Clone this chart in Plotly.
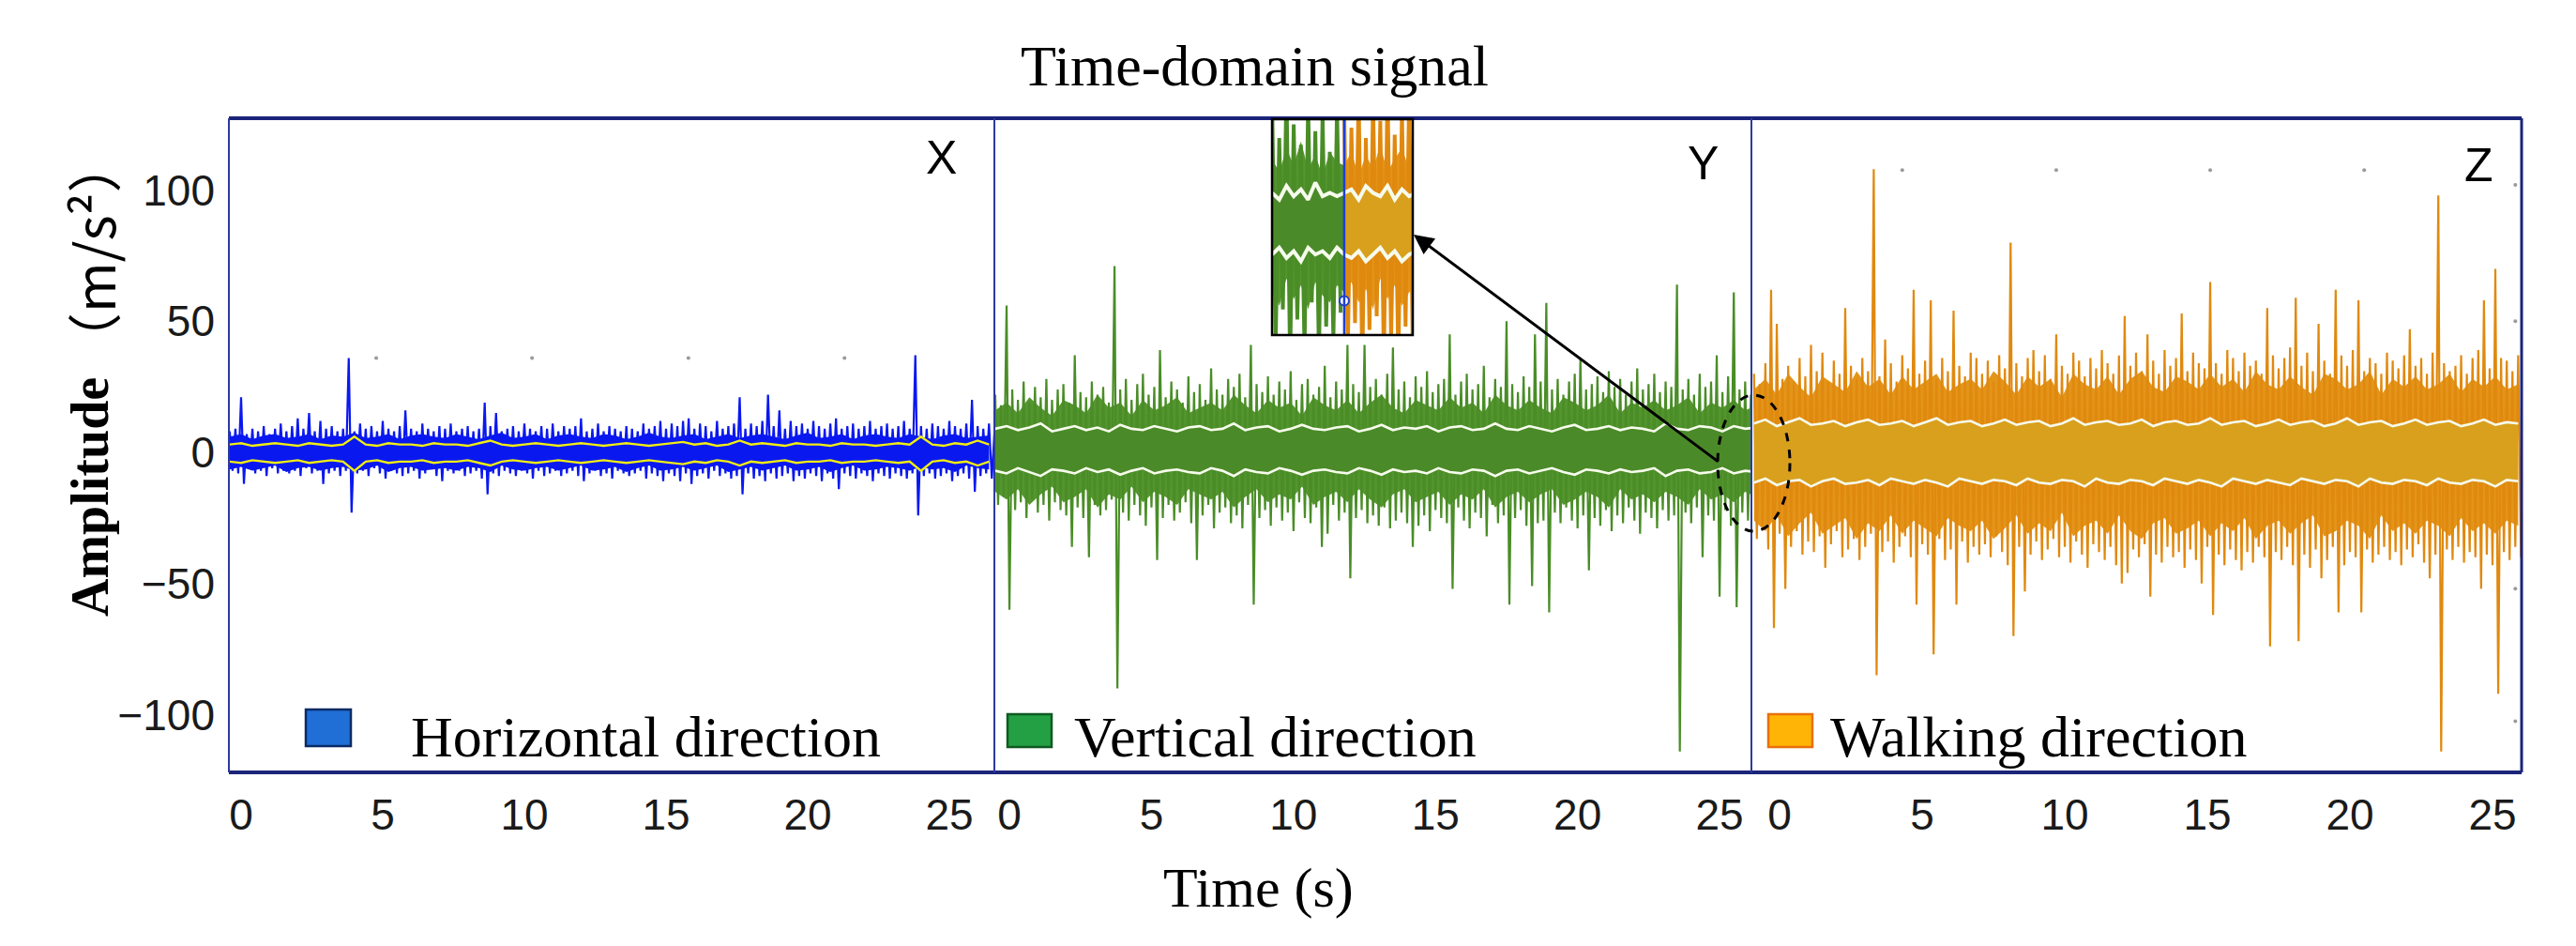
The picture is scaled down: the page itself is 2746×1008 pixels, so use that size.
import numpy as np
import plotly.graph_objects as go

# ---------------- data ----------------
STEP = 0.2          # s between successive positive peaks
ENV_STEP = 0.4      # s between envelope points
X_T0, Y_T0, Z_T0 = -0.4, -0.5, -0.9   # first sample time of each panel

tick_vals_x = [0, 5, 10, 15, 20, 25]
tick_vals_y = [-100, -50, 0, 50, 100]
tick_text_y = ["\u2212100", "\u221250", "0", "50", "100"]

# X  (horizontal direction)
x_up = [8, 9, 21, 7, 9, 8, 10, 7, 9, 11,
        8, 10, 13, 9, 15, 8, 12, 9, 10, 8,
        9, 36, 8, 11, 9, 10, 8, 12, 9, 8,
        10, 16, 9, 8, 11, 9, 8, 10, 9, 11,
        8, 9, 10, 8, 9, 19, 10, 15, 8, 9,
        10, 8, 11, 9, 8, 10, 9, 11, 8, 10,
        9, 10, 13, 8, 9, 11, 8, 10, 9, 8,
        10, 9, 8, 11, 9, 10, 12, 9, 11, 10,
        12, 13, 9, 11, 10, 8, 12, 9, 10, 11,
        21, 9, 11, 10, 12, 22, 10, 16, 9, 12,
        10, 11, 9, 12, 10, 9, 11, 13, 9, 10,
        11, 9, 10, 12, 9, 10, 11, 9, 10, 12,
        9, 37, 10, 9, 11, 10, 9, 12, 10, 9,
        11, 20, 10, 9, 11, 9]
x_dn = [-7, -8, -12, -6, -8, -7, -9, -6, -8, -7,
        -8, -7, -9, -6, -8, -7, -12, -8, -7, -9,
        -7, -23, -8, -7, -9, -6, -8, -10, -7, -8,
        -9, -8, -7, -10, -8, -6, -9, -11, -7, -8,
        -7, -9, -8, -7, -10, -16, -8, -9, -7, -8,
        -9, -7, -8, -10, -7, -9, -8, -7, -9, -8,
        -7, -9, -11, -8, -7, -9, -8, -10, -7, -8,
        -9, -8, -7, -10, -8, -9, -11, -8, -9, -11,
        -8, -12, -9, -8, -10, -7, -9, -8, -10, -9,
        -16, -8, -10, -9, -11, -8, -10, -9, -8, -11,
        -9, -10, -8, -9, -11, -8, -10, -14, -8, -9,
        -10, -8, -9, -11, -8, -9, -10, -8, -9, -10,
        -8, -24, -9, -8, -10, -9, -8, -11, -9, -8,
        -10, -15, -9, -8, -10, -8]
x_band_up = [6, 7, 5, 6.5, 7, 5.5, 6, 7, 5, 6.5,
             6, 7.5, 5.5, 6, 7, 5, 6.5, 7, 6, 5.5,
             7, 6, 5, 6.5, 7.5, 5.5, 6, 7, 5, 6.5,
             7, 6, 5.5, 7, 6.5, 5, 6, 7.5, 6, 5.5,
             6.5, 7, 5, 6, 7, 5.5, 6.5, 7, 6, 5,
             6.5, 7.5, 5.5, 6, 7, 5, 6.5, 7, 6, 5.5,
             7, 6, 5, 6.5, 7, 5.5, 6, 6.5]
x_band_dn = [-6.5, -5.5, -7, -6, -5, -7.5, -6, -5.5, -7, -6,
             -5.5, -7, -6.5, -5, -7.5, -6, -5.5, -7, -6.5, -6,
             -7, -5.5, -6, -7.5, -5, -6.5, -7, -6, -5.5, -7,
             -6, -5, -7, -6.5, -5.5, -7.5, -6, -5, -7, -6.5,
             -5.5, -7, -6, -5, -7.5, -6.5, -5.5, -7, -6, -5,
             -7, -6.5, -5.5, -7.5, -6, -5, -7, -6.5, -5.5, -6,
             -7, -5.5, -6.5, -6, -7.5, -5, -6, -6.5]
x_env_up = [3, 3.5, 2.5, 3, 3.5, 3, 2.5, 3.5, 3, 2.5, 3, 6, 3, 2.5, 3.5, 3, 3, 2.5, 3.5, 3,
            3, 2.5, 3.5, 4.5, 3, 2.5, 3, 3.5, 3, 2.5, 3, 3.5, 3, 2.5, 3, 3.5, 3, 2.5, 3, 3.5,
            4, 3, 3.5, 2.5, 3, 4.5, 3, 3.5, 3, 2.5, 3.5, 3, 3, 2.5, 3.5, 3, 3, 2.5, 3, 3.5,
            3, 6, 3, 2.5, 3.5, 3, 4.5, 3]
x_env_dn = [-3.5, -4, -3, -3.5, -4, -3.5, -3, -4, -3.5, -3, -3.5, -7, -3.5, -3, -4, -3.5, -3.5, -3, -4, -3.5,
            -3.5, -3, -4, -5, -3.5, -3, -3.5, -4, -3.5, -3, -3.5, -4, -3.5, -3, -3.5, -4, -3.5, -3, -3.5, -4,
            -4.5, -3.5, -4, -3, -3.5, -5, -3.5, -4, -3.5, -3, -4, -3.5, -3.5, -3, -4, -3.5, -3.5, -3, -3.5, -4,
            -3.5, -7, -3.5, -3, -4, -3.5, -5, -3.5]
x_dot_t = [4.77, 10.27, 15.79, 21.3]
x_dot_a = [36, 36, 36, 36]

# Y  (vertical direction)
y_up = [22, 18, 56, 24, 20, 27, 19, 25, 21, 28,
        20, 24, 26, 19, 37, 23, 21, 27, 22, 25,
        19, 71, 24, 28, 20, 26, 30, 22, 25, 39,
        21, 27, 24, 19, 29, 23, 26, 20, 32, 24,
        22, 28, 25, 30, 21, 41, 26, 23, 29, 22,
        27, 24, 31, 20, 26, 28, 22, 25, 33, 21,
        27, 24, 41, 26, 23, 41, 25, 28, 22, 30,
        40, 24, 27, 21, 29, 25, 31, 23, 26, 28,
        45, 22, 27, 30, 24, 26, 33, 21, 28, 25,
        50, 26, 23, 29, 25, 45, 27, 57, 24, 28,
        22, 27, 30, 36, 24, 26, 29, 23, 31, 25,
        28, 22, 27, 32, 24, 26, 30, 23, 27, 25,
        64, 24, 28, 22, 30, 25, 27, 37, 23, 29,
        61, 24, 27, 22, 26, 23]
y_dn = [-20, -17, -60, -22, -19, -25, -18, -23, -20, -26,
        -19, -22, -24, -36, -21, -25, -40, -20, -24, -22,
        -18, -90, -23, -26, -20, -24, -28, -21, -41, -25,
        -20, -26, -23, -19, -27, -41, -24, -20, -29, -23,
        -21, -27, -24, -29, -20, -58, -25, -22, -28, -21,
        -26, -23, -30, -19, -25, -27, -21, -36, -31, -20,
        -26, -23, -48, -25, -22, -27, -24, -28, -21, -29,
        -26, -23, -27, -36, -28, -24, -30, -22, -25, -27,
        -52, -21, -26, -29, -23, -25, -32, -20, -27, -24,
        -58, -25, -22, -28, -51, -27, -26, -61, -23, -27,
        -21, -26, -29, -24, -45, -25, -28, -22, -30, -24,
        -27, -21, -26, -31, -23, -25, -29, -22, -26, -24,
        -114, -23, -27, -21, -40, -24, -26, -55, -22, -28,
        -59, -23, -26, -21, -25, -22]
y_band_up = [16, 19, 15, 21, 17, 14, 20, 18, 15, 22,
             17, 19, 14, 20, 16, 18, 21, 15, 17, 19,
             16, 22, 18, 15, 20, 17, 19, 14, 21, 18,
             16, 20, 15, 19, 22, 17, 15, 20, 18, 16,
             21, 17, 19, 15, 22, 18, 16, 20, 17, 15,
             21, 19, 16, 18, 22, 15, 19, 17, 20, 16,
             18, 21, 15, 19, 17, 20, 16, 18]
y_band_dn = [-15, -18, -14, -20, -16, -13, -19, -17, -14, -21,
             -16, -18, -13, -19, -15, -17, -20, -14, -16, -18,
             -15, -21, -17, -14, -19, -16, -18, -13, -20, -17,
             -15, -19, -14, -18, -21, -16, -14, -19, -17, -15,
             -20, -16, -18, -14, -21, -17, -15, -19, -16, -14,
             -20, -18, -15, -17, -21, -14, -18, -16, -19, -15,
             -17, -20, -14, -18, -16, -19, -15, -17]
y_env_up = [9, 10, 8.5, 9.5, 11, 8, 9, 10, 8.5, 9.5, 8, 10.5, 9, 8.5, 10, 9, 8, 9.5, 10, 8.5,
            9, 11, 8.5, 9.5, 10, 8, 9, 10.5, 9, 8.5, 9.5, 10, 8, 9, 10.5, 8.5, 9.5, 9, 10, 8,
            9.5, 10, 8.5, 9, 11, 9, 8.5, 10, 9, 8, 9.5, 10.5, 8.5, 9, 10, 8.5, 9.5, 9, 8, 11,
            9, 8.5, 10, 9.5, 8, 10, 9, 9.5]
y_env_dn = [-7, -8, -6, -7.5, -9, -6.5, -7, -8, -6, -7.5, -6.5, -8.5, -7, -6, -8, -7, -6.5, -7.5, -8, -6,
            -7, -9, -6.5, -7.5, -8, -6, -7, -8.5, -7, -6.5, -7.5, -8, -6, -7, -8.5, -6.5, -7.5, -7, -8, -6,
            -7.5, -8, -6.5, -7, -9, -7, -6.5, -8, -7, -6, -7.5, -8.5, -6.5, -7, -8, -6.5, -7.5, -7, -6, -9,
            -7, -6.5, -8, -7.5, -6, -8, -7, -7.5]

# Z  (walking direction)
z_up = [30, 26, 34, 62, 49, 28, 33, 27, 36, 29,
        41, 31, 38, 27, 35, 30, 55, 33, 28, 36,
        31, 108, 29, 43, 34, 27, 37, 32, 62, 30,
        35, 58, 28, 36, 31, 54, 33, 29, 38, 36,
        30, 35, 27, 37, 32, 80, 34, 29, 36, 39,
        31, 37, 28, 45, 33, 30, 38, 35, 29, 36,
        32, 39, 34, 30, 37, 52, 33, 38, 31, 45,
        35, 30, 39, 33, 36, 53, 31, 38, 34, 32,
        65, 34, 30, 39, 36, 31, 38, 33, 35, 30,
        55, 37, 32, 36, 40, 59, 33, 38, 31, 49,
        35, 30, 62, 37, 33, 39, 58, 31, 36, 34,
        30, 38, 35, 32, 37, 47, 33, 36, 30, 38,
        98, 34, 31, 33, 37, 30, 36, 39, 58, 32,
        70, 36, 35, 31, 37, 33]
z_dn = [-33, -28, -37, -67, -31, -52, -36, -30, -39, -34,
        -38, -32, -44, -35, -30, -40, -37, -33, -41, -36,
        -31, -85, -38, -34, -42, -36, -32, -40, -58, -35,
        -39, -77, -33, -41, -37, -58, -34, -42, -36, -39,
        -35, -40, -32, -38, -43, -70, -36, -53, -39, -34,
        -41, -37, -33, -40, -36, -42, -34, -39, -44, -35,
        -38, -41, -36, -43, -50, -46, -37, -40, -35, -55,
        -39, -42, -36, -40, -38, -44, -37, -41, -50, -36,
        -62, -39, -43, -37, -41, -45, -38, -42, -36, -40,
        -74, -38, -41, -36, -43, -72, -39, -44, -37, -48,
        -41, -36, -61, -43, -38, -40, -61, -37, -42, -39,
        -36, -41, -38, -43, -37, -40, -35, -42, -48, -39,
        -114, -37, -41, -36, -42, -38, -40, -52, -39, -43,
        -92, -38, -41, -36, -40, -37]
z_band_up = [24, 28, 22, 30, 25, 21, 29, 26, 23, 31,
             25, 28, 22, 29, 24, 27, 30, 23, 26, 28,
             24, 31, 27, 22, 29, 25, 28, 21, 30, 26,
             24, 29, 22, 28, 31, 25, 23, 29, 27, 24,
             30, 25, 28, 23, 31, 26, 24, 29, 25, 22,
             30, 28, 24, 26, 31, 22, 28, 25, 29, 24,
             26, 30, 23, 28, 25, 29, 24, 26]
z_band_dn = [-26, -30, -24, -32, -27, -23, -31, -28, -25, -33,
             -27, -30, -24, -31, -26, -29, -32, -25, -28, -30,
             -26, -33, -29, -24, -31, -27, -30, -23, -32, -28,
             -26, -31, -24, -30, -33, -27, -25, -31, -29, -26,
             -32, -27, -30, -25, -33, -28, -26, -31, -27, -24,
             -32, -30, -26, -28, -33, -24, -30, -27, -31, -26,
             -28, -32, -25, -30, -27, -31, -26, -28]
z_env_up = [11, 12.5, 10, 11.5, 13, 10.5, 11, 12, 10, 11.5, 12.5, 10.5, 11, 12, 10, 11.5, 13, 10.5, 11.5, 12,
            10, 11, 12.5, 10.5, 11.5, 12, 10, 11, 13, 10.5, 11.5, 12, 10.5, 11, 12.5, 10, 11.5, 12, 10.5, 11,
            13, 10.5, 11.5, 12, 10, 11, 12.5, 10.5, 11.5, 12, 10, 11, 13, 10.5, 11.5, 12, 10, 11, 12.5, 10.5,
            11.5, 12, 10, 11, 12.5, 10.5, 11.5, 11]
z_env_dn = [-11.5, -10, -12.5, -11, -10.5, -13, -11, -10, -12, -11.5, -10.5, -12.5, -10, -11, -12, -10.5, -11.5, -13, -10, -11,
            -12, -10.5, -11, -12.5, -10, -11.5, -12, -10.5, -11, -13, -10, -11.5, -12, -10.5, -11, -12.5, -10, -11, -12, -10.5,
            -11.5, -13, -10, -11, -12, -10.5, -11.5, -12.5, -10, -11, -12, -10.5, -11, -13, -10, -11.5, -12, -10.5, -11, -12.5,
            -10, -11.5, -12, -10.5, -11, -13, -10.5, -11]
z_dot_t = [4.3, 9.7, 15.1, 20.5, 25.8, 25.8, 25.8, 25.8]
z_dot_a = [107.6, 107.6, 107.6, 107.6, 102, 50, -52, -102.5]

# inset (magnified view around the Y/Z junction)
INSET_STEP = 0.1
inset_g_t0, inset_o_t0 = -1.0, 0.0
inset_g_up = [38, 26, 41, 30, 24, 36, 28, 33, 22, 35]
inset_g_dn = [-34, -24, -40, -27, -36, -22, -38, -29, -33, -25]
inset_o_up = [35, 29, 40, 26, 37, 31, 42, 27, 34, 38]
inset_o_dn = [-36, -28, -41, -30, -26, -39, -33, -40, -29, -35]
inset_g_band_up = [20, 16, 23, 18, 25, 17, 21, 15, 22, 19, 18]
inset_g_band_dn = [-18, -23, -15, -21, -17, -24, -16, -20, -22, -17, -19]
inset_o_band_up = [18, 22, 15, 21, 17, 24, 16, 20, 23, 17, 19]
inset_o_band_dn = [-20, -16, -22, -18, -24, -15, -21, -17, -23, -19, -18]
inset_g_env_up = [10, 8, 12, 9, 11, 8, 13, 9, 10, 9, 10]
inset_g_env_dn = [-8, -6, -9, -7, -10, -6, -8, -7, -9, -6, -8]
inset_o_env_up = [10, 11, 8, 12, 10, 9, 12, 8, 11, 9, 10]
inset_o_env_dn = [-8, -9, -7, -10, -8, -6, -9, -7, -10, -8, -7]
inset_circle_t, inset_circle_a = [0.0], [-21.5]

# ---------------- styling ----------------
W, H = 2746, 1008
L, R, T, B = 236, 66, 118, 193
PW, PH = W - L - R, H - T - B


def px(xpix):
    return (xpix - L) / PW


def py(ypix):
    return (H - B - ypix) / PH


D1, D2 = px(1052), px(1859)
SERIF = "Liberation Serif, Times New Roman, serif"
SANS = "Liberation Sans, Arial, sans-serif"
CJK = "Noto Sans CJK SC, Liberation Sans, sans-serif"

BLUE, BLUE_CORE, YELLOW = "#0a18f0", "#0a18f0", "#f0ee10"
GREEN, GREEN_CORE = "#4a8d27", "#4b8a28"
ORANGE, ORANGE_CORE = "#e0890f", "#d9a01e"
GREEN_BAND, ORANGE_BAND = "#55952f", "#e3951a"
WHITE_LINE = "#f6fbec"


def zig(t0, step, up, dn):
    n = len(up)
    t = t0 + step * np.arange(n)
    xs = np.empty(2 * n)
    ys = np.empty(2 * n)
    xs[0::2] = t
    xs[1::2] = t + step / 2
    ys[0::2] = up
    ys[1::2] = dn
    return xs, ys


fig = go.Figure()


def add_band(xa, ya, t, lo, hi, col, line_col=None, line_w=0):
    fig.add_trace(go.Scatter(x=t, y=lo, mode="lines", xaxis=xa, yaxis=ya,
                             line=dict(color=line_col or col, width=line_w), hoverinfo="skip"))
    fig.add_trace(go.Scatter(x=t, y=hi, mode="lines", xaxis=xa, yaxis=ya, fill="tonexty",
                             fillcolor=col, line=dict(color=line_col or col, width=line_w),
                             hoverinfo="skip"))


def add_panel(xa, t0, up, dn, band_up, band_dn, env_up, env_dn,
              sig_col, band_col, core_col, env_col, sig_w, env_w):
    te = t0 + ENV_STEP * np.arange(len(env_up))
    add_band(xa, "y", te, band_dn, band_up, band_col)
    xs, ys = zig(t0, STEP, up, dn)
    fig.add_trace(go.Scatter(x=xs, y=ys, mode="lines", xaxis=xa, yaxis="y",
                             line=dict(color=sig_col, width=sig_w), hoverinfo="skip"))
    add_band(xa, "y", te, env_dn, env_up, core_col, env_col, env_w)


add_panel("x", X_T0, x_up, x_dn, x_band_up, x_band_dn, x_env_up, x_env_dn,
          BLUE, BLUE, BLUE_CORE, YELLOW, 2.2, 2.4)
add_panel("x2", Y_T0, y_up, y_dn, y_band_up, y_band_dn, y_env_up, y_env_dn,
          GREEN, GREEN_BAND, GREEN_CORE, WHITE_LINE, 2.2, 2.6)
add_panel("x3", Z_T0, z_up, z_dn, z_band_up, z_band_dn, z_env_up, z_env_dn,
          ORANGE, ORANGE_BAND, ORANGE_CORE, WHITE_LINE, 2.2, 2.6)

fig.add_trace(go.Scatter(x=x_dot_t, y=x_dot_a, mode="markers", xaxis="x", yaxis="y",
                         marker=dict(color="#9a9a9a", size=4), hoverinfo="skip"))
fig.add_trace(go.Scatter(x=z_dot_t, y=z_dot_a, mode="markers", xaxis="x3", yaxis="y",
                         marker=dict(color="#9a9a9a", size=4), hoverinfo="skip"))

# inset
for t0, bu, bd, col in [(inset_g_t0, inset_g_band_up, inset_g_band_dn, GREEN_BAND),
                        (inset_o_t0, inset_o_band_up, inset_o_band_dn, ORANGE_BAND)]:
    tb = t0 + INSET_STEP * np.arange(len(bu))
    add_band("x4", "y2", tb, bd, bu, col)
for t0, up, dn, col in [(inset_g_t0, inset_g_up, inset_g_dn, GREEN),
                        (inset_o_t0, inset_o_up, inset_o_dn, ORANGE)]:
    xs, ys = zig(t0, INSET_STEP, up, dn)
    fig.add_trace(go.Scatter(x=xs, y=ys, mode="lines", xaxis="x4", yaxis="y2",
                             line=dict(color=col, width=4), hoverinfo="skip"))
for t0, eu, ed, core in [(inset_g_t0, inset_g_env_up, inset_g_env_dn, GREEN_CORE),
                         (inset_o_t0, inset_o_env_up, inset_o_env_dn, ORANGE_CORE)]:
    te = t0 + INSET_STEP * np.arange(len(eu))
    add_band("x4", "y2", te, ed, eu, core, WHITE_LINE, 4)
fig.add_trace(go.Scatter(x=inset_circle_t, y=inset_circle_a, mode="markers", xaxis="x4", yaxis="y2",
                         marker=dict(color="white", size=10, line=dict(color="#1f3fd0", width=2)),
                         hoverinfo="skip"))

xaxis_common = dict(tickvals=tick_vals_x, showgrid=False, zeroline=False, showline=False, ticks="",
                    tickfont=dict(family=SANS, size=46, color="#1a1a1a"), ticklabelstandoff=14,
                    anchor="y")
fig.update_layout(
    width=W, height=H,
    margin=dict(l=L, r=R, t=T, b=B),
    paper_bgcolor="white", plot_bgcolor="white",
    showlegend=False,
    xaxis=dict(domain=[0, D1], range=[-0.43, 26.59], **xaxis_common),
    xaxis2=dict(domain=[D1, D2], range=[-0.53, 26.12], **xaxis_common),
    xaxis3=dict(domain=[D2, 1], range=[-0.99, 26.02], **xaxis_common),
    yaxis=dict(domain=[0, 1], range=[-122, 127.4], tickvals=tick_vals_y, ticktext=tick_text_y,
               showgrid=False, zeroline=False, showline=False, ticks="", anchor="x",
               tickfont=dict(family=SANS, size=46, color="#1a1a1a"), ticklabelstandoff=14),
    xaxis4=dict(domain=[px(1348), px(1498)], range=[-1.0, 0.95], visible=False, anchor="y2"),
    yaxis2=dict(domain=[py(349), py(119)], range=[-31.5, 31.5], visible=False, anchor="x4"),
)

NAVY, FRAME = "#1b2479", "#2c3a9e"
shapes = [
    dict(type="line", xref="paper", yref="paper", x0=0, x1=1, y0=1, y1=1, line=dict(color=NAVY, width=4)),
    dict(type="line", xref="paper", yref="paper", x0=0, x1=1, y0=0, y1=0, line=dict(color=NAVY, width=4)),
    dict(type="line", xref="paper", yref="paper", x0=0, x1=0, y0=0, y1=1, line=dict(color=FRAME, width=2)),
    dict(type="line", xref="paper", yref="paper", x0=1, x1=1, y0=0, y1=1, line=dict(color=NAVY, width=3)),
    dict(type="line", xref="paper", yref="paper", x0=D1, x1=D1, y0=0, y1=1, line=dict(color=FRAME, width=2)),
    dict(type="line", xref="paper", yref="paper", x0=D2, x1=D2, y0=0, y1=1, line=dict(color=FRAME, width=2)),
    # inset divider and frame
    dict(type="line", xref="x4", yref="paper", x0=0, x1=0, y0=py(349), y1=py(119),
         line=dict(color="#1f3fd0", width=2.5)),
    dict(type="rect", xref="paper", yref="paper", x0=px(1348), x1=px(1498), y0=py(349), y1=py(119),
         line=dict(color="black", width=2.5)),
    # dashed ellipse marking the junction
    dict(type="circle", xref="paper", yref="paper", x0=px(1823), x1=px(1900), y0=py(558), y1=py(413),
         line=dict(color="black", width=3, dash="dash")),
    # legend swatches
    dict(type="rect", xref="paper", yref="paper", x0=px(318), x1=px(366), y0=py(787), y1=py(748),
         fillcolor="#1f6fd6", line=dict(color="#0b2a66", width=2.5)),
    dict(type="rect", xref="paper", yref="paper", x0=px(1066), x1=px(1113), y0=py(788), y1=py(753),
         fillcolor="#23a044", line=dict(color="#0f5a22", width=2.5)),
    dict(type="rect", xref="paper", yref="paper", x0=px(1877), x1=px(1924), y0=py(788), y1=py(753),
         fillcolor="#ffb406", line=dict(color="#e8700c", width=2.5)),
]
for s in shapes:
    s["layer"] = "above"
fig.update_layout(shapes=shapes)

ann = [
    dict(text="Time-domain signal", x=px(1329), y=py(62), font=dict(family=SERIF, size=62, color="black")),
    dict(text="Time (s)", x=px(1333), y=py(938), font=dict(family=SERIF, size=60, color="black")),
    dict(text="<b>Amplitude</b>", x=px(88), y=py(522), textangle=-90,
         font=dict(family=SERIF, size=56, color="black")),
    dict(text="\uff08m/s\u00b2\uff09", x=px(90), y=py(262), textangle=-90,
         font=dict(family=CJK, size=58, color="black")),
    dict(text="X", x=px(995), y=py(160), font=dict(family=SANS, size=50, color="black")),
    dict(text="Y", x=px(1807), y=py(166), font=dict(family=SANS, size=50, color="black")),
    dict(text="Z", x=px(2634), y=py(168), font=dict(family=SANS, size=50, color="black")),
    dict(text="Horizontal direction", x=px(428), y=py(777), xanchor="left",
         font=dict(family=SERIF, size=62, color="black")),
    dict(text="Vertical direction", x=px(1135), y=py(777), xanchor="left",
         font=dict(family=SERIF, size=62, color="black")),
    dict(text="Walking direction", x=px(1941), y=py(777), xanchor="left",
         font=dict(family=SERIF, size=62, color="black")),
]
for a in ann:
    a.update(xref="paper", yref="paper", showarrow=False)
    a.setdefault("xanchor", "center")
    a.setdefault("yanchor", "middle")
ann.append(dict(text="", xref="paper", yref="paper", x=px(1499), y=py(242), ax=326, ay=243,
                showarrow=True, arrowhead=2, arrowsize=1.4, arrowwidth=3, arrowcolor="black", standoff=0))
fig.update_layout(annotations=ann)

fig.write_html("out.html")
